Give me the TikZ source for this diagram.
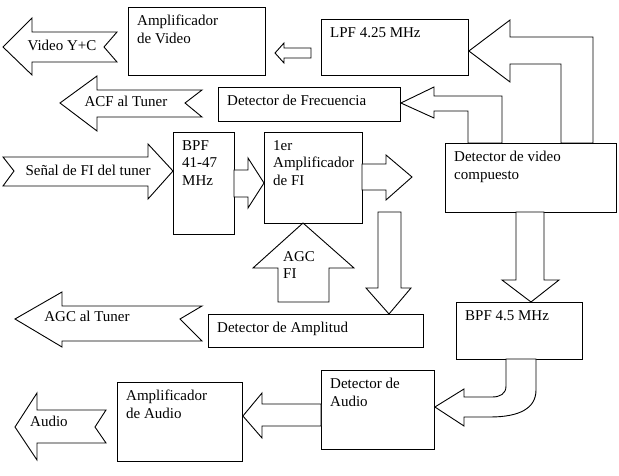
\documentclass[tikz,border=0pt]{standalone}
\usepackage{fontspec}
\setmainfont{Liberation Serif}
\tikzset{
  every node/.style={font=\fontsize{15}{17.5}\selectfont},
  box/.style={
    draw=black,
    line width=0.9pt,
    fill=white,
    anchor=north west,
    inner sep=0pt
  },
  boxtext/.style={
    anchor=north west,
    align=left,
    inner sep=0pt,
    xshift=9pt,
    yshift=-8pt
  },
  blockarrow/.style={
    draw=black,
    line width=0.9pt,
    fill=white,
    line join=miter
  },
  arrowtext/.style={
    inner sep=0pt,
    align=left
  }
}

\begin{document}
\begin{tikzpicture}[x=1pt, y=-1pt]
\useasboundingbox (0,0) rectangle (619,476);

% ---------------------------------------------------------------------------
% Blocks
% ---------------------------------------------------------------------------
\node[box, minimum width=137, minimum height=68,
  label={[boxtext]north west:Amplificador\\de Video}] (ampVideo) at (128,7) {};
\node[box, minimum width=147, minimum height=56,
  label={[boxtext]north west:LPF 4.25 MHz}] (lpf) at (321,19) {};
\node[box, minimum width=182, minimum height=34,
  label={[boxtext]north west:Detector de Frecuencia}] (detFreq) at (218,87) {};
\node[box, minimum width=171, minimum height=69,
  label={[boxtext]north west:Detector de video\\compuesto}] (detVideo) at (445,143) {};
\node[box, minimum width=61, minimum height=102,
  label={[boxtext]north west:BPF\\41-47\\MHz}] (bpfIF) at (173,132) {};
\node[box, minimum width=98, minimum height=91,
  label={[boxtext]north west:1er\\Amplificador\\de FI}] (ampIF) at (264,132) {};
\node[box, minimum width=215, minimum height=33,
  label={[boxtext]north west:Detector de Amplitud}] (detAmpl) at (208,314) {};
\node[box, minimum width=126, minimum height=57,
  label={[boxtext]north west:BPF 4.5 MHz}] (bpfSound) at (456,302) {};
\node[box, minimum width=113, minimum height=79,
  label={[boxtext]north west:Detector de\\Audio}] (detAudio) at (321,370) {};
\node[box, minimum width=125, minimum height=79,
  label={[boxtext]north west:Amplificador\\de Audio}] (ampAudio) at (117,382) {};

% ---------------------------------------------------------------------------
% Video path
% ---------------------------------------------------------------------------
\draw[blockarrow] (3,47) -- (32,18) -- (32,32) -- (117,32) -- (104,47)
  -- (117,62) -- (32,62) -- (32,75) -- cycle;
\node[arrowtext] (videoOut) at (62,45) {Video Y+C};

\draw[blockarrow] (311,48) -- (284,48) -- (284,43) -- (275,53)
  -- (284,63) -- (284,58) -- (311,58) -- cycle;

\draw[blockarrow] (lpf.east |- 0,51) -- (510,20) -- (510,37) -- (593,37)
  -- (593,143) -- (561,143) -- (561,64) -- (510,64) -- (510,82) -- cycle;

% Frequency detector and AFC
\draw[blockarrow] (detFreq.east |- 0,103) -- (434,87) -- (434,96) -- (502,96)
  -- (502,143) -- (468,143) -- (468,111) -- (434,111) -- (434,118) -- cycle;

\draw[blockarrow] (60,103) -- (97,76) -- (97,90) -- (202,90) -- (185,103)
  -- (202,117) -- (97,117) -- (97,131) -- cycle;
\node[arrowtext] (acfOut) at (126,101) {ACF al Tuner};

% ---------------------------------------------------------------------------
% IF chain
% ---------------------------------------------------------------------------
\draw[blockarrow] (3,157) -- (148,157) -- (148,144) -- (bpfIF.west |- 0,171)
  -- (148,199) -- (148,186) -- (3,186) -- (14,171) -- cycle;
\node[arrowtext] (ifIn) at (88,170) {Señal de FI del tuner};

\draw[blockarrow] (234,170) -- (248,170) -- (248,158) -- (ampIF.west |- 0,183)
  -- (248,208) -- (248,197) -- (234,197) -- cycle;

\draw[blockarrow] (362,164) -- (386,164) -- (386,155) -- (412,177)
  -- (386,200) -- (386,190) -- (362,190) -- cycle;

% AGC loop
\draw[blockarrow] (303,223) -- (354,268) -- (329,268) -- (329,302)
  -- (278,302) -- (278,268) -- (253,268) -- cycle;
\node[arrowtext, anchor=north west] (agcIF) at (283,251) {AGC\\FI};

\draw[blockarrow] (378,212) -- (401,212) -- (401,288) -- (411,288)
  -- (detAmpl.north -| 389,0) -- (366,288) -- (378,288) -- cycle;

\draw[blockarrow] (15,319) -- (62,292) -- (62,306) -- (202,306) -- (180,319)
  -- (202,341) -- (62,341) -- (62,347) -- cycle;
\node[arrowtext] (agcOut) at (87,316) {AGC al Tuner};

% ---------------------------------------------------------------------------
% Sound path
% ---------------------------------------------------------------------------
\draw[blockarrow] (516,212) -- (544,212) -- (544,280) -- (559,280)
  -- (bpfSound.north -| 531,0) -- (502,280) -- (516,280) -- cycle;

\draw[blockarrow] (506,359) -- (506,386) .. controls (506,394) and (500,397) .. (492,397)
  -- (464,397) -- (464,389) -- (detAudio.east |- 0,407) -- (464,426) -- (464,417)
  -- (490,417) .. controls (520,417) and (536,408) .. (536,390) -- (536,359) -- cycle;

\draw[blockarrow] (321,404) -- (262,404) -- (262,393) -- (ampAudio.east |- 0,416)
  -- (262,438) -- (262,426) -- (321,426) -- cycle;

\draw[blockarrow] (15,427) -- (37,393) -- (37,410) -- (106,410) -- (95,427)
  -- (106,443) -- (37,443) -- (37,460) -- cycle;
\node[arrowtext] (audioOut) at (49,421) {Audio};

\end{tikzpicture}
\end{document}
